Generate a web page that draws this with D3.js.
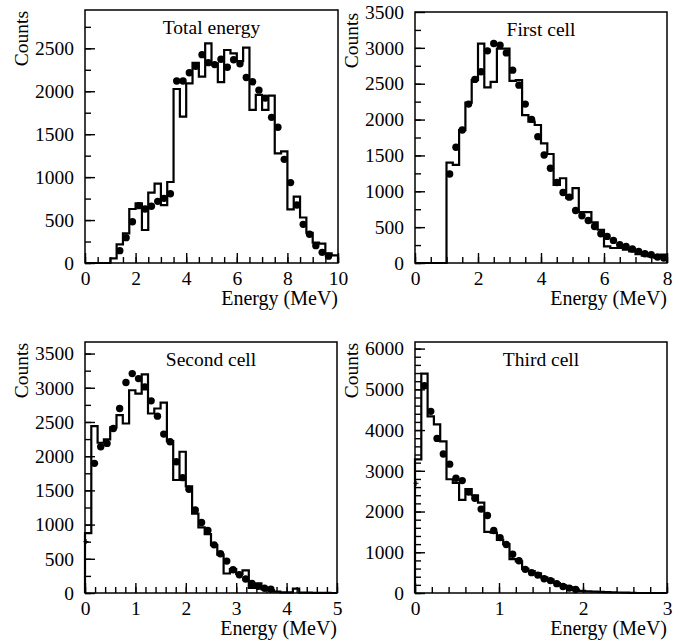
<!DOCTYPE html>
<html>
<head>
<meta charset="utf-8">
<script src="https://cdn.jsdelivr.net/npm/d3@7"></script>
<style>
  body { margin: 0; background: #fff; }
  text { font-family: "Liberation Serif", "Times New Roman", serif; fill: #000; }
</style>
</head>
<body>
<div id="chart"></div>
<script>
// histogram contents (counts per bin)
var totalBins = [0,0,0,0,54,217,345,629,695,384,819,924,675,943,2026,1704,2092,2330,2170,2558,
                 2325,2105,2480,2442,2350,2508,1782,1957,1782,1949,1277,1300,625,773,530,352,238,225,112,88];
var totalDots = [null,null,null,null,null,144,295,481,668,629,660,718,753,807,2120,2120,2215,2290,2426,2333,
                 2310,2372,2280,2366,2320,2160,2110,2013,1920,1696,1580,1207,936,675,450,334,202,124,80,null];

var firstBins = [0,0,0,0,0,1400,1368,1854,2235,2550,3060,2448,2527,2990,2990,2540,2550,2063,1970,1924,
                 1669,1520,1090,1182,904,1043,709,709,566,464,232,209,209,185,162,125,102,93,70,116];
var firstDots = [null,null,null,null,null,1242,1613,1854,2216,2560,2666,2958,3060,3037,2930,2689,2480,2216,2003,1762,
                 1507,1321,1122,983,918,733,658,593,510,408,371,315,255,232,195,162,130,116,83,70];

var secondBins = [875,2440,2196,2245,2420,2600,2478,2964,2915,3197,2624,2697,2784,2220,1652,2065,1560,1160,960,860,
                  700,560,285,350,280,330,75,140,55,40,20,10,8,65,5,5,3,3,2,0];
var secondDots = [null,1895,2138,2187,2405,2697,3076,3207,3134,3013,2809,2585,2323,2211,1919,1686,1516,1215,1030,913,
                  704,573,466,340,267,204,140,97,70,55,null,null,null,null,null,null,null,null,null,null];
var secondCrossX = [0], secondCrossY = [752];

var thirdBins = [3280,5388,4335,4139,3720,2792,2700,2286,2550,2400,2220,1500,1480,1306,1200,830,780,590,540,480,
                 384,327,245,188,139,82,50,40,35,30,20,15,12,8,5,0,0,0,0,0];
var thirdDots = [null,5090,4460,3796,3412,3163,2816,2759,2478,2327,2060,1902,1535,1360,1190,950,790,580,500,440,
                 350,305,230,160,120,85,null,null,null,null,null,null,null,null,null,null,null,null,null,null];
var thirdCrossX = [0], thirdCrossY = [2694];

var titles = ["Total energy", "First cell", "Second cell", "Third cell"];
var xMax = [10, 8, 5, 3];
var yMax = [2946, 3500, 3669, 6162];
var xMajor = [2, 2, 1, 1], xMinor = [0.5, 0.5, 0.2, 0.2];
var yMajor = [500, 500, 500, 1000], yMinor = [250, 250, 250, 200];

var width = 691, height = 643;

var svg = d3.select("#chart").append("svg")
    .attr("width", width)
    .attr("height", height)
    .style("background", "#fff");

// frame boxes [left, top, right, bottom]
var frames = [[85, 10, 338, 263], [415, 12, 667, 263], [85, 342, 337, 593], [415, 342, 667, 593]];

var panels = [
  {bins: totalBins, dots: totalDots, cx: [], cy: []},
  {bins: firstBins, dots: firstDots, cx: [], cy: []},
  {bins: secondBins, dots: secondDots, cx: secondCrossX, cy: secondCrossY},
  {bins: thirdBins, dots: thirdDots, cx: thirdCrossX, cy: thirdCrossY}
];

panels.forEach(function(p, k) {
  var f = frames[k];
  var x = d3.scaleLinear().domain([0, xMax[k]]).range([f[0], f[2]]);
  var y = d3.scaleLinear().domain([0, yMax[k]]).range([f[3], f[1]]);
  var n = p.bins.length, bw = xMax[k] / n;
  var g = svg.append("g");

  // minor ticks (inside the frame)
  g.append("g")
    .attr("transform", "translate(" + f[0] + ",0)")
    .call(d3.axisLeft(y).tickValues(d3.range(0, yMax[k], yMinor[k])).tickSize(-6).tickFormat(""))
    .call(s => s.select(".domain").remove());
  g.append("g")
    .attr("transform", "translate(0," + f[3] + ")")
    .call(d3.axisBottom(x).tickValues(d3.range(0, xMax[k] + 1e-9, xMinor[k])).tickSize(-6).tickFormat(""))
    .call(s => s.select(".domain").remove());

  // major ticks + labels
  var ya = g.append("g")
    .attr("transform", "translate(" + f[0] + ",0)")
    .call(d3.axisLeft(y).tickValues(d3.range(0, yMax[k] + 1, yMajor[k])).tickSize(-10).tickPadding(11).tickFormat(d3.format("d")));
  ya.select(".domain").remove();
  ya.selectAll("text").style("font-size", "19.5px");

  var xa = g.append("g")
    .attr("transform", "translate(0," + f[3] + ")")
    .call(d3.axisBottom(x).tickValues(d3.range(0, xMax[k] + 1e-9, xMajor[k])).tickSize(-10).tickPadding(8).tickFormat(d3.format("d")));
  xa.select(".domain").remove();
  xa.selectAll("text").style("font-size", "19.5px");

  g.selectAll(".tick line").attr("stroke", "#000").attr("stroke-width", 1.4);

  // histogram outline
  var pts = [[0, 0]];
  p.bins.forEach(function(v, i) { pts.push([i * bw, v]); });
  pts.push([xMax[k], p.bins[n - 1]]);
  pts.push([xMax[k], 0]);
  g.append("path")
    .datum(pts)
    .attr("fill", "none")
    .attr("stroke", "#000")
    .attr("stroke-width", 2.2)
    .attr("stroke-linejoin", "miter")
    .attr("d", d3.line().x(d => x(d[0])).y(d => y(d[1])).curve(d3.curveStepAfter));

  // data points at bin centres
  var dd = p.dots.map(function(v, i) { return {x: (i + 0.5) * bw, v: v}; }).filter(d => d.v !== null);
  g.selectAll("circle")
    .data(dd)
    .enter()
    .append("circle")
    .attr("cx", d => x(d.x))
    .attr("cy", d => y(d.v))
    .attr("r", 3.7)
    .attr("fill", "#000");

  // small cross marks at the axis
  p.cx.forEach(function(cv, i) {
    var px = x(cv) + 1, py = y(p.cy[i]);
    g.append("path")
      .attr("d", "M" + (px - 2.5) + "," + py + "H" + (px + 2.5) + "M" + px + "," + (py - 2.5) + "V" + (py + 2.5))
      .attr("stroke", "#000").attr("stroke-width", 1.2);
  });

  // frame
  g.append("rect")
    .attr("x", f[0]).attr("y", f[1])
    .attr("width", f[2] - f[0]).attr("height", f[3] - f[1])
    .attr("fill", "none")
    .attr("stroke", "#000")
    .attr("stroke-width", 1.5);

  // title
  g.append("text")
    .attr("x", (f[0] + f[2]) / 2)
    .attr("y", f[1] + 24)
    .attr("text-anchor", "middle")
    .style("font-size", "19.5px")
    .text(titles[k]);

  // axis labels
  g.append("text")
    .attr("x", f[2])
    .attr("y", f[3] + 42)
    .attr("text-anchor", "end")
    .style("font-size", "20px")
    .text("Energy (MeV)");

  g.append("text")
    .attr("transform", "translate(" + (f[0] - 57) + "," + (f[1] + 1) + ") rotate(-90)")
    .attr("text-anchor", "end")
    .style("font-size", "19.5px")
    .text("Counts");
});
</script>
</body>
</html>
